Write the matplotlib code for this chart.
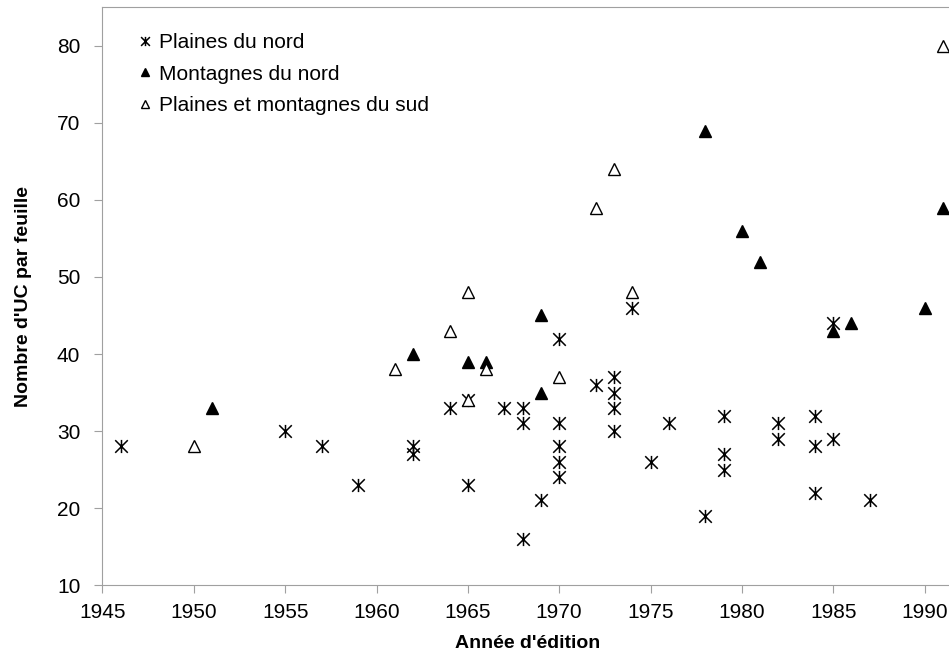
import numpy as np
import matplotlib
matplotlib.use("Agg")
import matplotlib.pyplot as plt
from matplotlib.path import Path

# Plaines du nord
pn_year = [1946, 1955, 1957, 1959, 1962, 1962, 1964, 1965, 1965, 1967, 1968, 1968, 1968,
           1969, 1970, 1970, 1970, 1970, 1970, 1972, 1973, 1973, 1973, 1973, 1974,
           1975, 1976, 1978, 1979, 1979, 1979, 1982, 1982, 1984, 1984, 1984,
           1985, 1985, 1987]
pn_val = [28, 30, 28, 23, 28, 27, 33, 34, 23, 33, 33, 31, 16,
          21, 42, 31, 28, 26, 24, 36, 37, 35, 33, 30, 46,
          26, 31, 19, 32, 27, 25, 31, 29, 32, 28, 22,
          44, 29, 21]

# Montagnes du nord
mn_year = [1951, 1962, 1965, 1966, 1969, 1969, 1978, 1980, 1981, 1985, 1986, 1990, 1991]
mn_val = [33, 40, 39, 39, 45, 35, 69, 56, 52, 43, 44, 46, 59]

# Plaines et montagnes du sud
ps_year = [1950, 1961, 1964, 1965, 1965, 1966, 1970, 1972, 1973, 1974, 1991]
ps_val = [28, 38, 43, 48, 34, 38, 37, 59, 64, 48, 80]

labels = ["Plaines du nord", "Montagnes du nord", "Plaines et montagnes du sud"]

plt.rcParams['font.family'] = ['Liberation Sans', 'DejaVu Sans']

# asterisk marker: X with a vertical bar
star = Path([(-1, -1), (1, 1), (-1, 1), (1, -1), (0, -1.05), (0, 1.05)],
            [Path.MOVETO, Path.LINETO, Path.MOVETO, Path.LINETO, Path.MOVETO, Path.LINETO])

fig = plt.figure(figsize=(9.49, 6.59), dpi=100)
ax = fig.add_axes([0.108, 0.112, 0.897, 0.877])

ax.plot(pn_year, pn_val, linestyle='none', marker=star, markersize=9.5,
        markerfacecolor='none', markeredgecolor='black', markeredgewidth=1.1,
        label=labels[0], clip_on=False)
ax.plot(mn_year, mn_val, linestyle='none', marker='^', markersize=8.5,
        color='black', label=labels[1], clip_on=False)
ax.plot(ps_year, ps_val, linestyle='none', marker='^', markersize=8.5,
        markerfacecolor='white', markeredgecolor='black', markeredgewidth=1.0,
        label=labels[2], clip_on=False)

ax.set_xlim(1945, 1991.6)
ax.set_ylim(10, 85)
ax.set_xticks(np.arange(1945, 1991, 5))
ax.set_yticks(np.arange(10, 81, 10))

for s in ['left', 'bottom', 'top']:
    ax.spines[s].set_color('#a0a0a0')
ax.spines['right'].set_visible(False)
ax.tick_params(axis='both', direction='out', length=6, color='#a0a0a0', labelsize=15)
ax.tick_params(axis='x', pad=7)
ax.tick_params(axis='y', pad=10)

ax.set_xlabel("Année d'édition", fontsize=14, fontweight='bold', labelpad=9)
ax.set_ylabel("Nombre d'UC par feuille", fontsize=14, fontweight='bold')
ax.yaxis.set_label_coords(-0.083, 0.5)

leg = ax.legend(loc='upper left', bbox_to_anchor=(0.04, 0.955), frameon=False,
                fontsize=15, handlelength=0.8, handletextpad=0.3,
                labelspacing=0.6, markerscale=0.7, borderaxespad=0,
                borderpad=0)

fig.savefig("out.png", dpi=100)
